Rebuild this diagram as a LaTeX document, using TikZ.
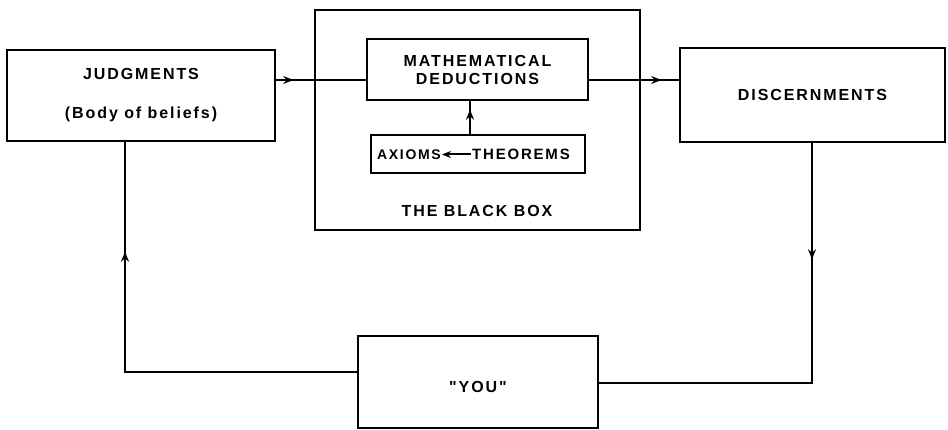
\documentclass[tikz,border=0pt]{standalone}
\usepackage{fontspec}
\setmainfont{Liberation Sans}[LetterSpace=12]
\newfontfamily\qfont{Liberation Sans}[LetterSpace=12]
\usetikzlibrary{arrows.meta,decorations.markings}
\tikzset{
  box/.style={draw, line width=2.6pt, inner sep=0pt, align=center, font=\fontsize{16}{18}\selectfont\bfseries},
  txt/.style={inner sep=1pt, font=\fontsize{16}{18}\selectfont\bfseries},
  conn/.style={line width=2.4pt},
  midarrow/.style={postaction={decorate,decoration={markings,mark=at position #1 with {\arrow{Stealth[length=10pt,width=8pt]}}}}}
}
\begin{document}
\begin{tikzpicture}[x=1pt,y=-1pt]
\useasboundingbox (0,0) rectangle (948,430);
% boxes
\node[box, minimum width=268pt, minimum height=91pt] (judg) at (141,95.5) {JUDGMENTS\\[21pt](Body of beliefs)};
\node[box, minimum width=325pt, minimum height=220pt] (bbox) at (477.5,120) {};
\node[txt] (bbl) at (477,211) {THE BLACK BOX};
\node[box, minimum width=221pt, minimum height=61pt] (math) at (477.5,69.5) {MATHEMATICAL\\DEDUCTIONS};
\node[box, minimum width=214pt, minimum height=38pt] (axbox) at (478,154) {};
\node[txt, anchor=east, font=\fontsize{14}{17}\selectfont\bfseries] (ax) at (442,154.5) {AXIOMS};
\node[txt, anchor=west, font=\fontsize{15}{17}\selectfont\bfseries] (th) at (471,154.5) {THEOREMS};
\node[box, minimum width=265pt, minimum height=94pt] (disc) at (812.5,95) {DISCERNMENTS};
\node[box, minimum width=240pt, minimum height=92pt, text height=21pt, text depth=0pt] (you) at (478,382) {\qfont\bfseries"YOU"};
% helper coordinates
\coordinate (lvl) at (0,80);
\coordinate (axv) at (470,0);
\coordinate (ll) at (125,372);
\coordinate (rl) at (812,383);
% connectors
\draw[conn, midarrow=17pt] (judg.east |- lvl) -- (math.west |- lvl);
\draw[conn, midarrow=72pt] (math.east |- lvl) -- (disc.west |- lvl);
\draw[conn, midarrow=24pt] (axbox.north -| axv) -- (math.south -| axv);
\draw[conn, line width=2pt, -{Stealth[length=9pt,width=7pt]}] (th.west) -- (ax.east);
\draw[conn, midarrow=352pt] (you.west |- ll) -| (judg.south -| ll);
\draw[conn, midarrow=116pt] (disc.south -| rl) |- (you.east |- rl);
\end{tikzpicture}
\end{document}
